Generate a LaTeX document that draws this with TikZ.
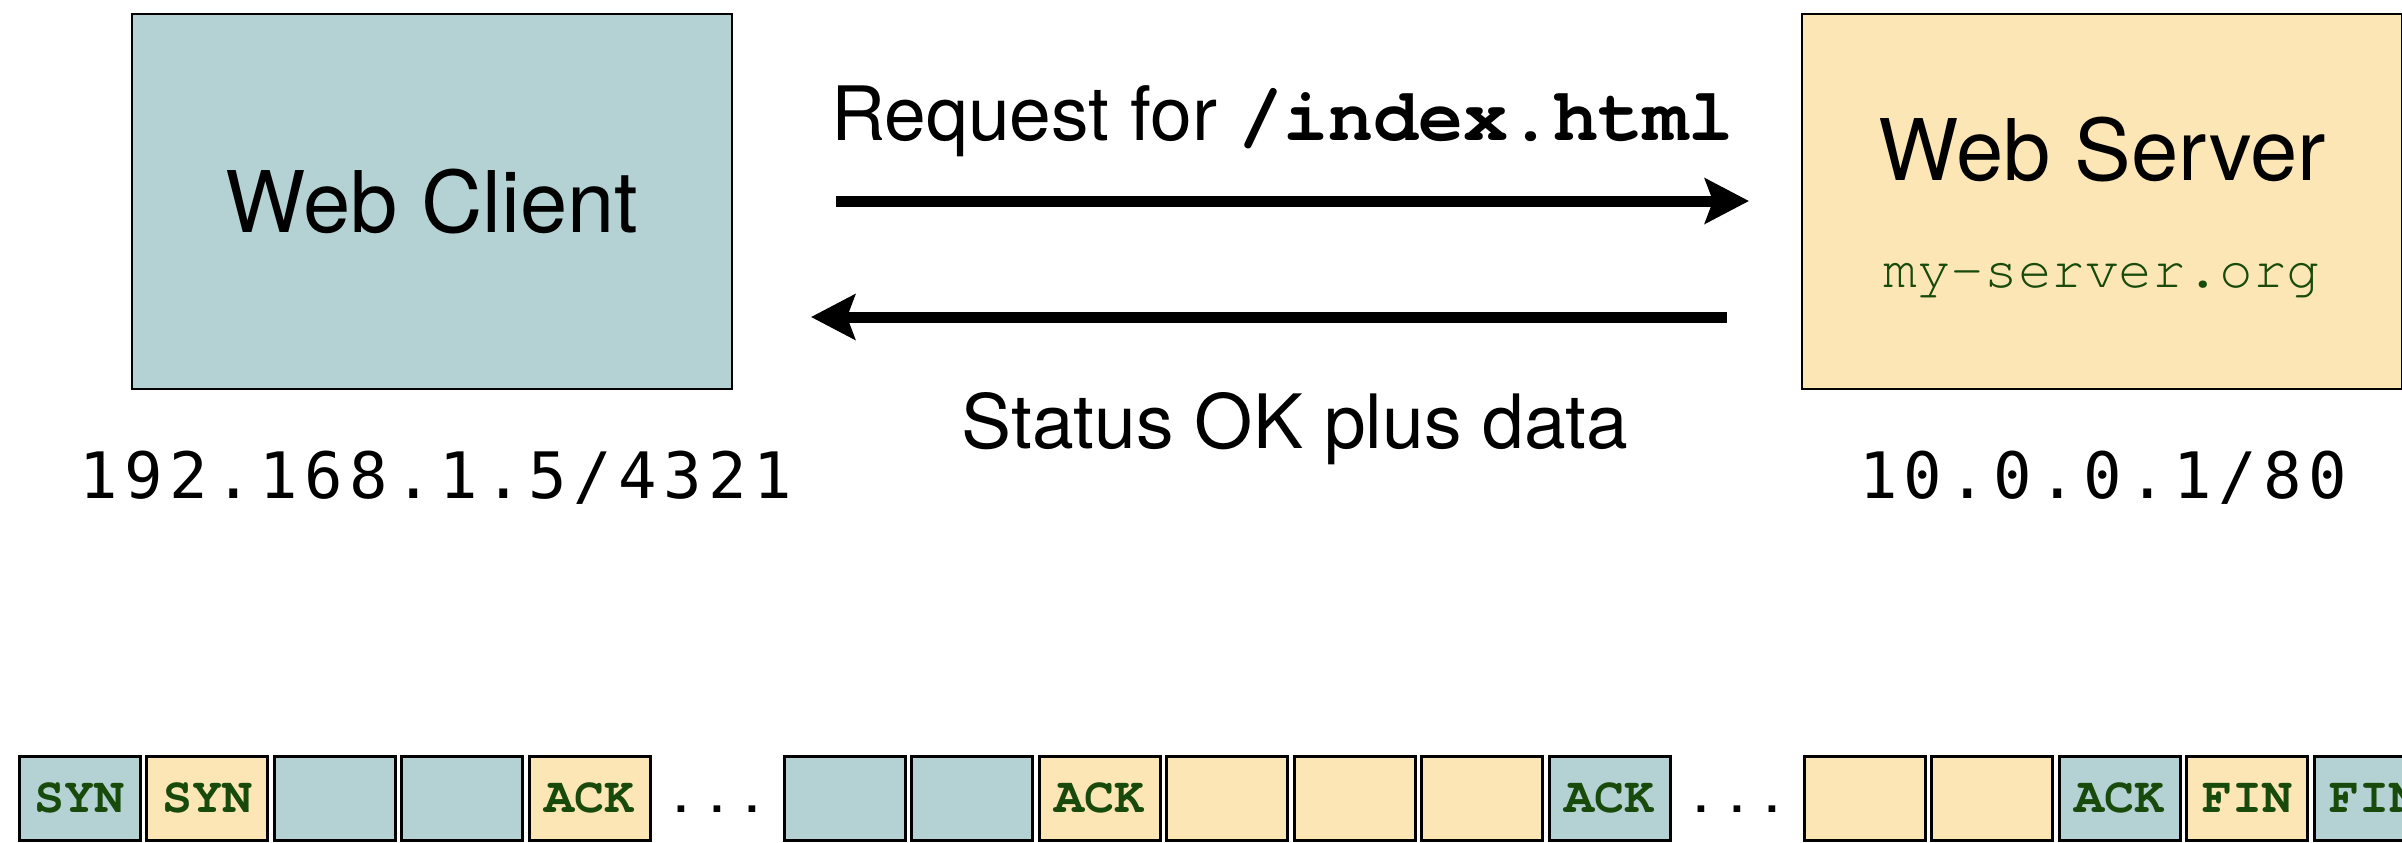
\documentclass[tikz,border=0pt]{standalone}
\usepackage{fontspec}
\setmainfont{TeX Gyre Heros}
\newfontfamily\ipfont[LetterSpace=10]{DejaVu Sans Mono}
\newfontfamily\cour{TeX Gyre Cursor}
\usetikzlibrary{arrows.meta}
\definecolor{cblue}{HTML}{B4D2D3}
\definecolor{cyellow}{HTML}{FDE6B5}
\definecolor{cgreen}{HTML}{174A0B}
\tikzset{
  hostbox/.style={draw=black, line width=1.25pt, minimum width=300pt, minimum height=187.5pt, inner sep=0pt},
  seg/.style={draw=black, line width=1.5pt, minimum width=60.5pt, minimum height=42pt, inner sep=0pt,
     font=\cour\bfseries\fontsize{25}{27}\selectfont, text=cgreen},
  segb/.style={seg, fill=cblue},
  segy/.style={seg, fill=cyellow},
  msg/.style={line width=5.5pt, -{Stealth[length=22pt, width=22.5pt, inset=4pt]}},
  biglabel/.style={font=\fontsize{42.5}{50}\selectfont, inner sep=0pt},
  arrlabel/.style={font=\fontsize{37.5}{44}\selectfont, inner sep=0pt, anchor=base},
  iplabel/.style={font=\ipfont\fontsize{32}{38}\selectfont, inner sep=0pt, anchor=base},
}
\begin{document}
\begin{tikzpicture}[x=0.5pt, y=-0.5pt]
\useasboundingbox (0,0) rectangle (2402,842);
\clip (0,0) rectangle (2402,842);
% hosts
\node[hostbox, fill=cblue, biglabel] (client) at (432,201.5) {Web Client};
\node[hostbox, fill=cyellow] (server) at (2102,201.5) {};
\node[biglabel, anchor=base] (srvname) at (2102,180) {Web Server};
\node[font=\cour\fontsize{28}{34}\selectfont, text=cgreen, inner sep=0pt, anchor=base] (srvhost) at (2102,287) {my-server.org};
\node[iplabel] (clientip) at (436,498) {192.168.1.5/4321};
\node[iplabel] (serverip) at (2103,498) {10.0.0.1/80};
% messages
\coordinate (reqa) at (836,201);
\coordinate (reqb) at (1749,201);
\coordinate (resa) at (1727,317);
\coordinate (resb) at (811,317);
\draw[msg] (reqa) -- (reqb);
\draw[msg] (resa) -- (resb);
\node[arrlabel] (reqlabel) at (1282,140) {Request for {\cour\bfseries /index.html}};
\node[arrlabel] (reslabel) at (1295,448) {Status OK plus data};
% segments
\foreach \i/\st/\txt in {0/segb/SYN,1/segy/SYN,2/segb/,3/segb/,4/segy/ACK,
  6/segb/,7/segb/,8/segy/ACK,9/segy/,10/segy/,11/segy/,12/segb/ACK,
  14/segy/,15/segy/,16/segb/ACK,17/segy/FIN,18/segb/FIN}{
  \node[\st] (s\i) at ({79.5+127.5*\i},798) {\txt};
}
\node[font=\fontsize{32}{38}\selectfont, inner sep=0pt, anchor=base] (dots1) at ({79.5+127.5*5},812) {.\ .\ .};
\node[font=\fontsize{32}{38}\selectfont, inner sep=0pt, anchor=base] (dots2) at ({79.5+127.5*13},812) {.\ .\ .};
\end{tikzpicture}
\end{document}
